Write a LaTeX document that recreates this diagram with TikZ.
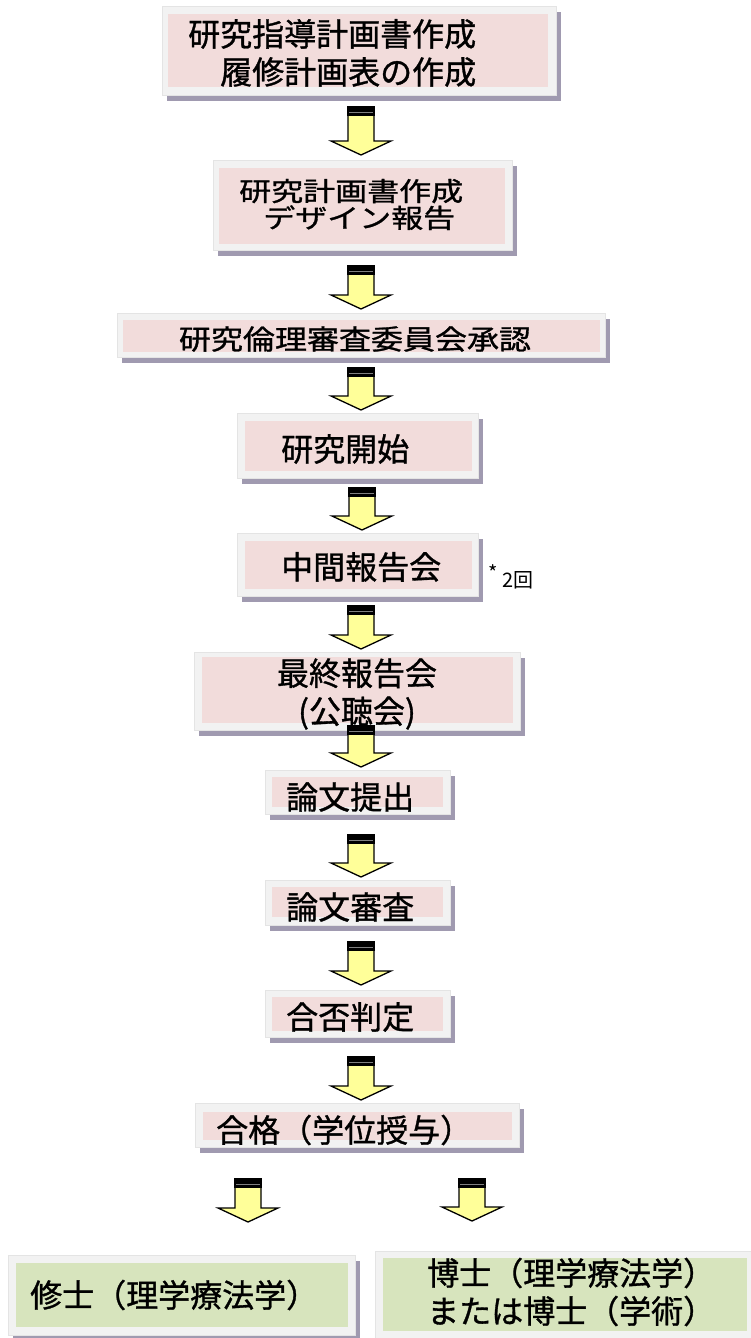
\documentclass[tikz,border=0pt]{standalone}
\usepackage{fontspec}
\newfontfamily\jp[FakeBold=1.0]{Noto Sans CJK JP}
\newfontfamily\jpnote{Noto Sans CJK JP}
\definecolor{framegray}{RGB}{242,242,242}
\definecolor{framedge}{RGB}{228,228,228}
\definecolor{shadowc}{RGB}{160,154,176}
\definecolor{pinkin}{RGB}{242,220,219}
\definecolor{greenin}{RGB}{215,228,189}
\definecolor{arrowy}{RGB}{255,255,153}
% outer box x1 y1 x2 y2, inner box x1 y1 x2 y2, inner colour
\newcommand\flowbox[9]{%
  \fill[shadowc] (#1+5,#2+6) rectangle (#3+5,#4+6);
  \fill[framegray,draw=framedge,line width=0.6pt] (#1,#2) rectangle (#3,#4);
  \fill[#9] (#5,#6) rectangle (#7,#8);
}
% centre x, top y, tip y
\newcommand\blockarrow[3]{%
  \coordinate (at#1#2) at (#1,#2);
  \draw[fill=arrowy,line width=1.3pt,line join=miter]
    (#1-13,#2) -- (#1+13,#2) -- (#1+13,#3-14) -- (#1+30,#3-14) -- (#1,#3)
    -- (#1-30,#3-14) -- (#1-13,#3-14) -- cycle;
  \fill[black] (#1-13.6,#2-0.6) rectangle (#1+13.6,#2+9);
  \draw[gray,line width=0.5pt] (#1-12,#2+5) -- (#1+12,#2+5);
}
\begin{document}
\begin{tikzpicture}[x=1pt,y=-1pt,
  txt/.style={font=\jp\fontsize{32}{38}\selectfont, inner sep=0pt, align=left, text=black},
  ctxt/.style={txt, align=center},
  note/.style={font=\jpnote\fontsize{20}{20}\selectfont, inner sep=0pt, text=black}]
\useasboundingbox (0,0) rectangle (750,1338);
\fill[white] (0,0) rectangle (750,1338);

% boxes
\flowbox{162}{6}{556}{95}{168}{14}{548}{87}{pinkin}
\node[txt, anchor=west] (t1) at (188,53) {研究指導計画書作成\\\hspace*{32pt}履修計画表の作成};

\flowbox{213}{160}{512}{250}{219}{168}{505}{244}{pinkin}
\node[txt, anchor=west] (t2) at (239,208) {\scalebox{1}[0.82]{\begin{tabular}{@{}l@{}}研究計画書作成\\[-6pt]\hspace*{24pt}デザイン報告\end{tabular}}};

\flowbox{117}{313}{605}{357}{123}{320}{600}{352}{pinkin}
\node[txt] (t3) at (355,339) {\scalebox{1}[0.86]{研究倫理審査委員会承認}};

\flowbox{237}{413}{478}{478}{245}{421}{472}{471}{pinkin}
\node[txt, anchor=west] (t4) at (281,449) {研究開始};

\flowbox{237}{533}{478}{596}{245}{541}{472}{589}{pinkin}
\node[txt, anchor=west] (t5) at (281,567) {中間報告会};
\node[note, anchor=west] (t5n) at (488,577) {\raisebox{7pt}{*}\hspace{5pt}2回};

\flowbox{194}{652}{520}{730}{202}{657}{513}{723}{pinkin}
\node[ctxt] (t6) at (357,694) {最終報告会\\(公聴会)};

\flowbox{265}{770}{450}{814}{272}{777}{443}{807}{pinkin}
\node[txt, anchor=west] (t7) at (286,797) {論文提出};

\flowbox{265}{880}{450}{925}{272}{887}{443}{917}{pinkin}
\node[txt, anchor=west] (t8) at (286,907) {論文審査};

\flowbox{265}{990}{450}{1037}{272}{997}{443}{1031}{pinkin}
\node[txt, anchor=west] (t9) at (286,1017) {合否判定};

\flowbox{195}{1103}{519}{1147}{203}{1112}{512}{1140}{pinkin}
\node[txt, anchor=west] (t10) at (216,1130) {合格（学位授与）};

\flowbox{8}{1255}{355}{1335}{16}{1263}{348}{1327}{greenin}
\node[txt, anchor=west] (t11) at (30,1295) {修士（理学療法学）};

\flowbox{375}{1251}{760}{1350}{383}{1258}{747}{1331}{greenin}
\node[txt, anchor=west] (t12) at (427,1292) {博士（理学療法学）\\または博士（学術）};

% arrows
\blockarrow{361}{107}{155}
\blockarrow{361}{266}{309}
\blockarrow{361}{368}{410}
\blockarrow{362}{488}{530}
\blockarrow{361}{606}{649}
\blockarrow{361}{726}{767}
\blockarrow{361}{835}{877}
\blockarrow{361}{942}{985}
\blockarrow{361}{1057}{1100}
\blockarrow{248}{1179}{1222}
\blockarrow{472}{1179}{1221}
\end{tikzpicture}
\end{document}
